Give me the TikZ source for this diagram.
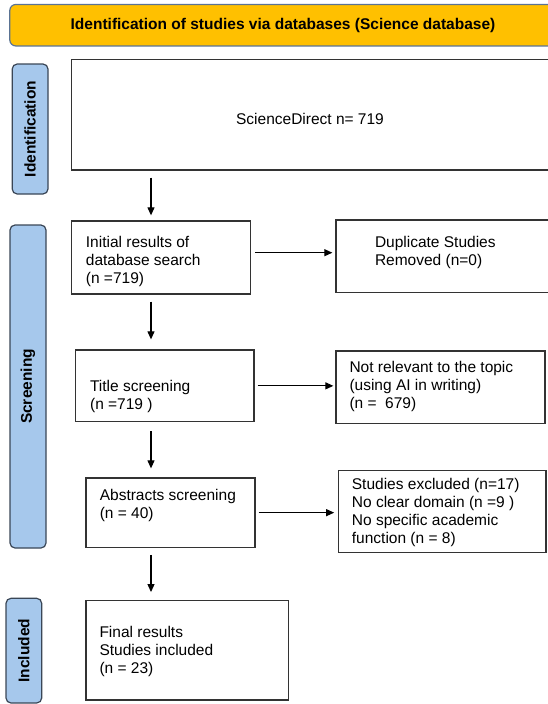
\documentclass[tikz,border=0pt]{standalone}
\usepackage{fontspec}
\setmainfont{Liberation Sans}
\usetikzlibrary{arrows.meta}

\definecolor{headgold}{HTML}{FFC000}
\definecolor{headedge}{HTML}{5A7394}
\definecolor{stagefill}{HTML}{A6C8EC}
\definecolor{stageedge}{HTML}{3A4656}
\definecolor{boxedge}{HTML}{333333}

\tikzset{
  box/.style={draw=boxedge, line width=1.3pt, inner sep=0pt},
  stage/.style={draw=stageedge, fill=stagefill, line width=1.2pt, rounded corners=5pt,
    rotate=90, inner sep=0pt, font=\bfseries\fontsize{15.5}{18}\selectfont},
  txt/.style={anchor=base west, align=left, inner sep=0pt, font=\fontsize{15.5}{18}\selectfont},
  arr/.style={-{Triangle[length=8pt,width=7pt]}, line width=1.1pt},
}

\begin{document}
\begin{tikzpicture}[x=1pt,y=-1pt]
\useasboundingbox (0,0) rectangle (548,704);

% header
\node[draw=headedge, fill=headgold, line width=1.2pt, rounded corners=6pt,
  minimum width=546.4pt, minimum height=41.5pt, font=\bfseries\fontsize{15.5}{18}\selectfont]
  (head) at (283,25.2) {Identification of studies via databases (Science database)};

% stage labels
\node[stage, minimum width=130pt, minimum height=35.8pt] (labident) at (30.1,129) {Identification};
\node[stage, minimum width=323pt, minimum height=36pt] (labscreen) at (28,386.5) {Screening};
\node[stage, minimum width=104.7pt, minimum height=35.7pt] (labincl) at (23.85,650.65) {Included};

% boxes
\node[box, minimum width=484.3pt, minimum height=110.2pt] (ident) at (313.85,114.9) {};
\node[box, minimum width=179pt, minimum height=73pt] (init) at (161.2,257.5) {};
\node[box, minimum width=220pt, minimum height=72.3pt] (dup) at (446,256.15) {};
\node[box, minimum width=178.3pt, minimum height=71.7pt] (title) at (164.85,385.85) {};
\node[box, minimum width=209pt, minimum height=72.3pt] (notrel) at (440.5,387.15) {};
\node[box, minimum width=169pt, minimum height=69.3pt] (abs) at (170.5,512.65) {};
\node[box, minimum width=207.7pt, minimum height=81.8pt] (excl) at (442.15,511.4) {};
\node[box, minimum width=202.7pt, minimum height=99.3pt] (final) at (187.35,650.35) {};

% texts (base = last line)
\node[txt, anchor=base] (tident) at (310,124) {ScienceDirect n= 719};
\node[txt] (tinit) at (85.7,283) {Initial results of\\database search\\(n =719)};
\node[txt] (tdup) at (374.8,265) {Duplicate Studies\\Removed (n=0)};
\node[txt] (ttitle) at (89.9,409.5) {Title screening\\(n =719 )};
\node[txt] (tnotrel) at (349.3,408) {Not relevant to the topic\\(using AI in writing)\\(n = \ 679)};
\node[txt] (tabs) at (99.6,518.5) {Abstracts screening\\(n = 40)};
\node[txt] (texcl) at (351.7,543) {Studies excluded (n=17)\\No clear domain (n =9 )\\No specific academic\\function (n = 8)};
\node[txt] (tfinal) at (99.3,673) {Final results\\Studies included\\(n = 23)};

% arrows
\coordinate (spine) at (151,0);
\draw[arr, shorten <=7pt, shorten >=5pt] (ident.south -| spine) -- (init.north -| spine);
\draw[arr, shorten <=7pt, shorten >=10pt] (init.south -| spine) -- (title.north -| spine);
\draw[arr, shorten <=9pt, shorten >=9pt] (title.south -| spine) -- (abs.north -| spine);
\draw[arr, shorten <=7pt, shorten >=8pt] (abs.south -| spine) -- (final.north -| spine);

\draw[arr, shorten <=4pt, shorten >=3pt] ([yshift=4.8pt]init.east) -- ([yshift=4.8pt]init.east -| dup.west);
\draw[arr, shorten <=3pt, shorten >=2pt] (title.east) -- (title.east -| notrel.west);
\draw[arr, shorten <=3pt, shorten >=3.5pt] (abs.east) -- (abs.east -| excl.west);

\end{tikzpicture}
\end{document}
